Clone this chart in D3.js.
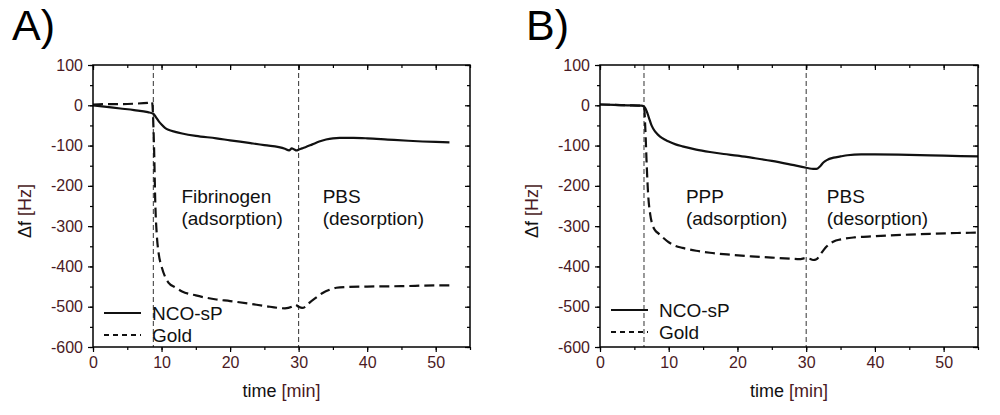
<!DOCTYPE html>
<html>
<head>
<meta charset="utf-8">
<script src="https://cdn.jsdelivr.net/npm/d3@7"></script>
<style>
  body { margin: 0; background: #fff; }
  text { font-family: "Liberation Sans", Arial, sans-serif; }
</style>
</head>
<body>
<svg id="chart" width="1000" height="415"></svg>
<script>
// --- data ---
const timeMajor = [0, 10, 20, 30, 40, 50];
const freqMajor = [100, 0, -100, -200, -300, -400, -500, -600];

// Panel A: fibrinogen
const tA_nco = [0, 2, 4, 6, 8, 8.8, 9.2, 9.6, 10, 10.5, 11, 12, 13, 15, 18, 20, 23, 25, 28, 28.6, 29, 29.3, 29.7, 30, 30.5, 31, 32, 33, 34, 35, 36, 38, 40, 43, 46, 50, 52];
const fA_nco = [0, -4, -8, -12, -17, -21, -30, -40, -48, -56, -61, -66, -70, -76, -82, -87, -94, -99, -108, -112, -107, -109, -112, -110, -107, -104, -97, -90, -85, -82, -81, -81, -82, -85, -88, -91, -92];
const tA_gold = [0, 2, 4, 6, 8, 8.6, 8.9, 9.1, 9.3, 9.6, 10, 10.5, 11, 12, 13, 15, 18, 20, 23, 25, 28, 29, 29.5, 30, 30.5, 31, 31.6, 32.5, 33.5, 34.5, 35.5, 37, 40, 45, 50, 52];
const fA_gold = [2, 3, 3, 4, 6, 9, -100, -250, -320, -370, -400, -425, -440, -452, -462, -472, -482, -486, -493, -498, -504, -500, -495, -500, -503, -500, -490, -478, -466, -458, -453, -451, -450, -449, -447, -447];
const markersA = [8.8, 30];
const labelsA = [["Fibrinogen", "(adsorption)"], ["PBS", "(desorption)"]];

// Panel B: PPP
const tB_nco = [0, 2, 4, 6, 6.4, 6.8, 7.1, 7.5, 8, 8.5, 9, 10, 11, 12, 14, 16, 18, 20, 22, 25, 28, 30, 30.5, 31, 31.5, 32, 32.5, 33, 34, 35, 36, 38, 40, 45, 50, 55];
const fB_nco = [2, 1, 0, -1, -3, -15, -30, -50, -65, -74, -81, -90, -97, -102, -110, -116, -121, -125, -130, -138, -148, -155, -157, -158, -158, -152, -142, -136, -130, -127, -124, -122, -122, -123, -125, -127];
const tB_gold = [0, 2, 4, 6, 6.4, 6.6, 6.8, 7.0, 7.3, 7.6, 8, 8.5, 9, 10, 11, 12, 14, 16, 19, 22, 25, 28, 29, 30, 30.5, 31, 31.5, 32, 32.5, 33, 34, 35, 37, 39, 42, 45, 48, 52, 55];
const fB_gold = [2, 1, 0, -1, -3, -60, -150, -220, -270, -295, -310, -318, -326, -340, -349, -354, -361, -366, -371, -375, -378, -381, -382, -379, -381, -384, -382, -372, -360, -350, -338, -333, -328, -326, -323, -321, -319, -317, -316];
const markersB = [6.4, 30];
const labelsB = [["PPP", "(adsorption)"], ["PBS", "(desorption)"]];

const seriesNames = ["NCO-sP", "Gold"];

const svg = d3.select("#chart");
const maroon = "#4a1a24";

function zip(ts, fs) { return ts.map((t, i) => ({ t: t, f: fs[i] })); }

function drawPanel(p) {
  const x = d3.scaleLinear().domain([0, 55]).range([p.left, p.right]);
  const y = d3.scaleLinear().domain([-600, 100]).range([p.bottom, p.top]);
  const g = svg.append("g");

  // panel letter
  g.append("text").attr("x", p.letterX).attr("y", 40)
    .attr("font-size", 43).attr("fill", "#000").text(p.letter);

  // phase markers
  g.selectAll(".marker").data(p.markers).join("line")
    .attr("x1", d => x(d)).attr("x2", d => x(d))
    .attr("y1", y(100)).attr("y2", y(-600))
    .attr("stroke", "#333").attr("stroke-width", 1)
    .attr("stroke-dasharray", "5,3");

  // phase labels
  p.labels.forEach((lines, i) => {
    const t = g.append("text").attr("font-size", 19).attr("fill", "#111");
    lines.forEach((s, j) => {
      t.append("tspan").attr("x", x(p.labelX[i])).attr("y", 203 + j * 22).text(s);
    });
  });

  const line = d3.line().x(d => x(d.t)).y(d => y(d.f)).curve(d3.curveMonotoneX);
  g.append("path").datum(p.gold).attr("d", line)
    .attr("fill", "none").attr("stroke", "#111").attr("stroke-width", 2.2)
    .attr("stroke-dasharray", "10,5");
  g.append("path").datum(p.nco).attr("d", line)
    .attr("fill", "none").attr("stroke", "#111").attr("stroke-width", 2.2);

  // axes: minor then major ticks
  const minorX = d3.range(0, 56, 5), minorY = d3.range(-600, 101, 50);
  const axes = [
    [d3.axisBottom(x), `translate(0,${p.bottom})`, minorX, timeMajor, 1, true],
    [d3.axisTop(x), `translate(0,${p.top})`, minorX, timeMajor, -1, false],
    [d3.axisLeft(y), `translate(${p.left},0)`, minorY, freqMajor, 1, true],
    [d3.axisRight(y), `translate(${p.right},0)`, minorY, freqMajor, -1, false]
  ];
  axes.forEach(([ax, tr, minor, major, dir, lab]) => {
    const a1 = g.append("g").attr("transform", tr)
      .call(ax.tickValues(minor).tickSize(3 * dir).tickFormat(""));
    a1.select(".domain").remove();
    const a2 = g.append("g").attr("transform", tr)
      .call(ax.tickValues(major).tickSize(5 * dir)
        .tickPadding(lab ? 5 : 0).tickFormat(lab ? d3.format("d") : ""));
    a2.select(".domain").remove();
    a2.selectAll("text").attr("font-size", 16).attr("fill", maroon)
      .attr("font-family", '"Liberation Sans", Arial, sans-serif');
    g.selectAll(".tick line").attr("stroke", "#000").attr("stroke-width", 1.2);
  });
  g.selectAll(".tick text").text(function () { return this.textContent.replace("\u2212", "-"); });

  // frame
  g.append("rect").attr("x", p.left).attr("y", p.top)
    .attr("width", p.right - p.left).attr("height", p.bottom - p.top)
    .attr("fill", "none").attr("stroke", "#000").attr("stroke-width", 1.5);

  // axis titles
  const xt = g.append("text").attr("x", (p.left + p.right) / 2).attr("y", 397)
    .attr("text-anchor", "middle").attr("font-size", 18).attr("fill", "#111");
  xt.append("tspan").text("time ");
  xt.append("tspan").attr("fill", maroon).text("[min]");
  const yt = g.append("text")
    .attr("transform", `translate(${p.left - 62},${(p.top + p.bottom) / 2 + 5}) rotate(-90)`)
    .attr("text-anchor", "middle").attr("font-size", 18).attr("fill", "#111");
  yt.append("tspan").text("\u0394f ");
  yt.append("tspan").attr("fill", maroon).text("[Hz]");

  // legend
  const lg = g.append("g");
  seriesNames.forEach((name, i) => {
    const ly = p.legendY + i * 22;
    lg.append("line").attr("x1", p.left + 11).attr("x2", p.left + 48)
      .attr("y1", ly).attr("y2", ly)
      .attr("stroke", "#111").attr("stroke-width", 2.2)
      .attr("stroke-dasharray", i === 0 ? null : "5,4");
    lg.append("text").attr("x", p.left + 59).attr("y", ly + 7)
      .attr("font-size", 19).attr("fill", "#111").text(name);
  });
}

drawPanel({
  letter: "A)", letterX: 12, left: 93, right: 470, top: 65, bottom: 347,
  nco: zip(tA_nco, fA_nco), gold: zip(tA_gold, fA_gold),
  markers: markersA, labels: labelsA, labelX: [12.9, 33.5], legendY: 313
});
drawPanel({
  letter: "B)", letterX: 526, left: 600, right: 978, top: 65, bottom: 347,
  nco: zip(tB_nco, fB_nco), gold: zip(tB_gold, fB_gold),
  markers: markersB, labels: labelsB, labelX: [12.5, 33.0], legendY: 310
});
</script>
</body>
</html>
